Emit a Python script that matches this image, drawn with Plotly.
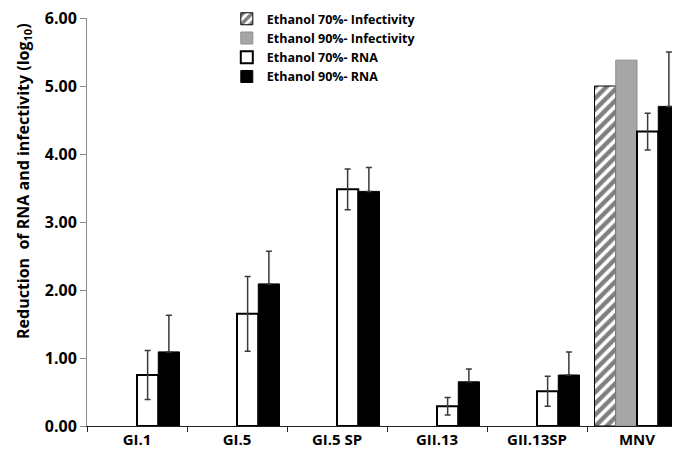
import plotly.graph_objects as go

categories = ["GI.1", "GI.5", "GI.5 SP", "GII.13", "GII.13SP", "MNV"]

inf70 = [None, None, None, None, None, 5.00]
inf90 = [None, None, None, None, None, 5.38]

rna70 = [0.75, 1.65, 3.48, 0.29, 0.51, 4.33]
rna70_err = [0.36, 0.55, 0.30, 0.13, 0.22, 0.27]

rna90 = [1.09, 2.09, 3.45, 0.65, 0.75, 4.70]
rna90_err = [0.54, 0.48, 0.35, 0.19, 0.34, 0.80]

y_ticks = [0, 1, 2, 3, 4, 5, 6]

FONT = "Open Sans"
err_style = dict(type="data", visible=True, color="#3a3a3a", thickness=1.5, width=3)

fig = go.Figure()
fig.add_trace(go.Bar(
    name="Ethanol 70%- Infectivity", x=categories, y=inf70,
    marker=dict(color="white", line=dict(color="black", width=1),
                pattern=dict(shape="/", fgcolor="black", bgcolor="white", size=8, solidity=0.55)),
))
fig.add_trace(go.Bar(
    name="Ethanol 90%- Infectivity", x=categories, y=inf90,
    marker=dict(color="#a6a6a6", line=dict(color="#8c8c8c", width=1)),
))
fig.add_trace(go.Bar(
    name="Ethanol 70%- RNA", x=categories, y=rna70,
    marker=dict(color="white", line=dict(color="black", width=2)),
    error_y=dict(array=rna70_err, **err_style),
))
fig.add_trace(go.Bar(
    name="Ethanol 90%- RNA", x=categories, y=rna90,
    marker=dict(color="black", line=dict(color="black", width=1)),
    error_y=dict(array=rna90_err, symmetric=False, arrayminus=[0]*6, **err_style),
))

fig.update_layout(
    width=680, height=449,
    margin=dict(l=79, r=1, t=10, b=31, autoexpand=False),
    paper_bgcolor="white", plot_bgcolor="white",
    barmode="group", bargap=0.15, bargroupgap=0,
    font=dict(family=FONT, color="black"),
    showlegend=True,
    legend=dict(x=0.233, y=1.034, xanchor="left", yanchor="top",
                font=dict(family=FONT, size=12.5, color="black", weight="bold"),
                bgcolor="rgba(0,0,0,0)", tracegroupgap=0, itemwidth=30),
    xaxis=dict(
        showline=True, linecolor="#202020", linewidth=1,
        ticks="outside", ticklen=5, tickcolor="#202020", tickson="boundaries",
        tickfont=dict(family=FONT, size=15, color="black", weight="bold"),
        showgrid=False, zeroline=False, ticklabeloverflow="allow",
    ),
    yaxis=dict(
        range=[0, 6], tickvals=y_ticks, tickformat=".2f",
        showline=True, linecolor="#8c8c8c", linewidth=1,
        ticks="outside", ticklen=6, tickcolor="#8c8c8c",
        tickfont=dict(family=FONT, size=16, color="black", weight="bold"),
        showgrid=False, zeroline=False, ticklabeloverflow="allow",
    ),
)

fig.add_annotation(
    text="Reduction  of RNA and infectivity (log<sub>10</sub>)",
    xref="paper", yref="paper", x=-0.107, y=0.60, textangle=-90,
    showarrow=False, xanchor="center", yanchor="middle",
    font=dict(family=FONT, size=16, color="black", weight="bold"),
)

fig.write_html("out.html")
